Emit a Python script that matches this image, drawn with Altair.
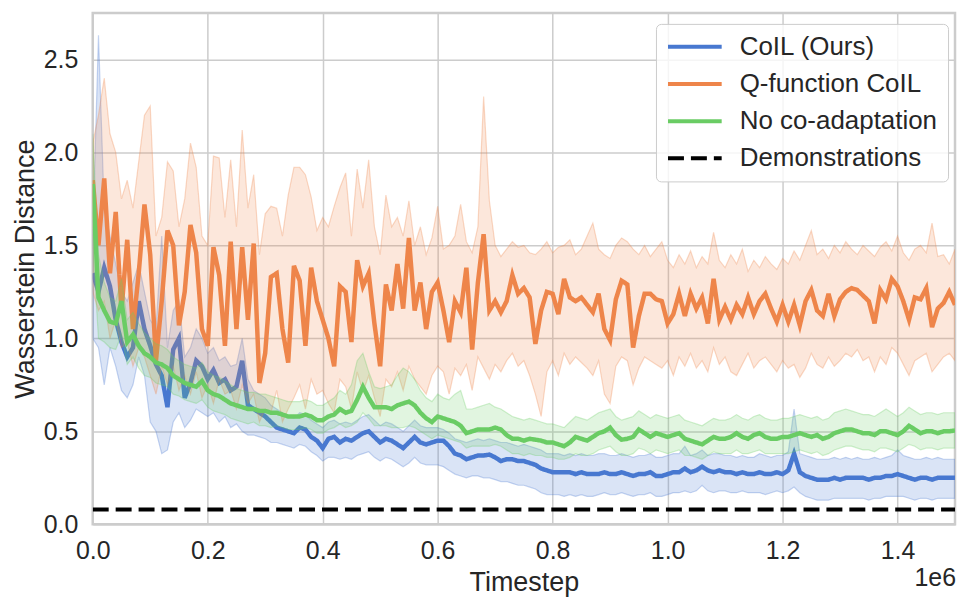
import altair as alt
import pandas as pd

FONT = "Liberation Sans"
TEXT_COLOR = "#262626"
GRID = "#cccccc"

# timesteps (every 10k steps, 0 .. 1.5e6)
STEPS = [i * 10000 for i in range(151)]

SERIES = ["CoIL (Ours)", "Q-function CoIL", "No co-adaptation", "Demonstrations"]
COLORS = ["#4878d0", "#ee854a", "#6acc64", "#000000"]
DASHES = [[1, 0], [1, 0], [1, 0], [16, 7]]
DEMO_LEVEL = 0.08
X_TICKS = [0, 200000, 400000, 600000, 800000, 1000000, 1200000, 1400000]
Y_TICKS = [0.0, 0.5, 1.0, 1.5, 2.0, 2.5]

# ---- CoIL (Ours) ----
coil_mean = [
    1.35, 1.25, 1.38, 1.28, 1.10, 0.98, 0.90, 0.95, 1.20, 1.05,
    0.96, 0.86, 0.80, 0.63, 0.94, 1.00, 0.68, 0.76, 0.88, 0.85,
    0.78, 0.83, 0.76, 0.78, 0.72, 0.74, 0.88, 0.64, 0.62, 0.60,
    0.58, 0.55, 0.52, 0.51, 0.50, 0.49, 0.52, 0.51, 0.47, 0.45,
    0.41, 0.46, 0.47, 0.44, 0.46, 0.45, 0.47, 0.49, 0.50, 0.47,
    0.44, 0.46, 0.45, 0.43, 0.41, 0.44, 0.47, 0.44, 0.43, 0.44,
    0.45, 0.45, 0.42, 0.38, 0.37, 0.35, 0.36, 0.37, 0.37, 0.375,
    0.36, 0.34, 0.35, 0.35, 0.34, 0.34, 0.33, 0.32, 0.30, 0.29,
    0.28, 0.28, 0.28, 0.28, 0.27, 0.28, 0.27, 0.27, 0.27, 0.28,
    0.27, 0.27, 0.28, 0.27, 0.26, 0.27, 0.27, 0.28, 0.26, 0.26,
    0.27, 0.28, 0.28, 0.30, 0.28, 0.29, 0.31, 0.29, 0.28, 0.29,
    0.28, 0.28, 0.27, 0.28, 0.27, 0.27, 0.28, 0.27, 0.27, 0.28,
    0.27, 0.29, 0.38, 0.28, 0.26, 0.25, 0.24, 0.24, 0.24, 0.25,
    0.24, 0.25, 0.25, 0.25, 0.25, 0.24, 0.25, 0.25, 0.26, 0.26,
    0.27, 0.26, 0.25, 0.24, 0.25, 0.25, 0.24, 0.25, 0.25, 0.25,
    0.25,
]
coil_hi = [
    1.55, 2.63, 1.70, 1.55, 1.40, 1.25, 1.20, 1.30, 1.40, 1.25,
    1.10, 1.05, 1.55, 0.95, 1.15, 1.20, 0.90, 0.95, 1.05, 1.00,
    0.92, 0.95, 0.88, 0.90, 0.85, 0.86, 1.00, 0.78, 0.72, 0.70,
    0.68, 0.64, 0.62, 0.60, 0.58, 0.57, 0.60, 0.59, 0.56, 0.54,
    0.52, 0.55, 0.56, 0.54, 0.55, 0.54, 0.56, 0.58, 0.59, 0.56,
    0.53, 0.55, 0.54, 0.52, 0.50, 0.53, 0.56, 0.53, 0.52, 0.52,
    0.52, 0.51, 0.49, 0.46, 0.45, 0.44, 0.45, 0.46, 0.45, 0.46,
    0.45, 0.44, 0.44, 0.43, 0.42, 0.43, 0.42, 0.41, 0.40, 0.38,
    0.38, 0.38, 0.37, 0.38, 0.37, 0.38, 0.37, 0.37, 0.38, 0.38,
    0.37, 0.37, 0.38, 0.37, 0.36, 0.37, 0.37, 0.38, 0.36, 0.36,
    0.37, 0.38, 0.38, 0.42, 0.37, 0.38, 0.40, 0.37, 0.38, 0.38,
    0.37, 0.37, 0.36, 0.37, 0.36, 0.36, 0.38, 0.37, 0.36, 0.37,
    0.37, 0.39, 0.62, 0.38, 0.37, 0.36, 0.35, 0.35, 0.35, 0.36,
    0.35, 0.36, 0.35, 0.36, 0.35, 0.35, 0.36, 0.35, 0.36, 0.37,
    0.40, 0.37, 0.36, 0.35, 0.35, 0.36, 0.35, 0.36, 0.35, 0.35,
    0.35,
]
coil_lo = [
    1.00, 0.95, 0.75, 0.95, 0.85, 0.72, 0.68, 0.75, 0.90, 0.80,
    0.55, 0.50, 0.38, 0.40, 0.55, 0.60, 0.52, 0.56, 0.62, 0.60,
    0.58, 0.60, 0.55, 0.58, 0.52, 0.54, 0.50, 0.48, 0.48, 0.47,
    0.46, 0.44, 0.44, 0.43, 0.42, 0.41, 0.43, 0.42, 0.39, 0.37,
    0.34, 0.36, 0.36, 0.35, 0.36, 0.35, 0.37, 0.38, 0.39, 0.36,
    0.34, 0.36, 0.35, 0.33, 0.31, 0.33, 0.36, 0.33, 0.32, 0.32,
    0.32, 0.31, 0.29, 0.27, 0.26, 0.25, 0.26, 0.26, 0.25, 0.25,
    0.24, 0.23, 0.23, 0.22, 0.21, 0.21, 0.20, 0.19, 0.17, 0.16,
    0.16, 0.16, 0.15, 0.16, 0.15, 0.16, 0.15, 0.15, 0.16, 0.17,
    0.16, 0.16, 0.17, 0.16, 0.15, 0.16, 0.16, 0.17, 0.15, 0.15,
    0.16, 0.17, 0.17, 0.18, 0.17, 0.18, 0.21, 0.18, 0.17, 0.18,
    0.18, 0.17, 0.17, 0.18, 0.17, 0.17, 0.17, 0.16, 0.17, 0.18,
    0.17, 0.18, 0.20, 0.17, 0.15, 0.14, 0.13, 0.13, 0.13, 0.14,
    0.14, 0.14, 0.14, 0.14, 0.14, 0.13, 0.14, 0.14, 0.15, 0.15,
    0.15, 0.15, 0.14, 0.13, 0.14, 0.14, 0.13, 0.14, 0.14, 0.14,
    0.14,
]

# ---- Q-function CoIL ----
qfn_mean = [
    1.85, 1.50, 1.86, 1.35, 1.68, 1.15, 1.53, 1.05, 1.35, 1.72,
    1.45, 0.88, 1.20, 1.58, 1.50, 1.07, 1.25, 1.61, 1.46, 1.05,
    0.96, 1.49, 1.34, 0.96, 1.52, 1.05, 1.49, 1.10, 1.51, 0.76,
    0.92, 1.33, 1.35, 1.05, 0.87, 1.39, 1.31, 0.96, 1.38, 1.20,
    1.10, 1.00, 0.85, 1.28, 1.25, 0.98, 1.42, 1.28, 1.35, 1.08,
    0.85, 1.29, 1.15, 1.40, 1.16, 1.54, 1.15, 1.30, 1.05, 1.25,
    1.30, 1.15, 0.98, 1.20, 1.14, 1.38, 0.94, 1.30, 1.56, 1.15,
    1.20, 1.14, 1.20, 1.34, 1.24, 1.27, 1.22, 0.97, 1.15, 1.25,
    1.24, 1.13, 1.32, 1.22, 1.20, 1.22, 1.18, 1.14, 1.24, 1.05,
    0.99, 1.21, 1.31, 1.29, 0.95, 1.12, 1.24, 1.24, 1.21, 1.20,
    1.08, 1.13, 1.24, 1.12, 1.24, 1.16, 1.22, 1.08, 1.32, 1.10,
    1.17, 1.10, 1.18, 1.13, 1.22, 1.13, 1.20, 1.24, 1.16, 1.09,
    1.18, 1.09, 1.18, 1.07, 1.20, 1.26, 1.15, 1.12, 1.24, 1.12,
    1.21, 1.25, 1.27, 1.26, 1.23, 1.20, 1.08, 1.26, 1.21, 1.32,
    1.28, 1.20, 1.10, 1.22, 1.21, 1.27, 1.06, 1.16, 1.19, 1.25,
    1.18,
]
qfn_hi = [
    2.05, 2.20, 2.40, 2.10, 2.00, 1.75, 1.85, 1.70, 1.95, 2.20,
    2.25, 1.55, 1.65, 1.95, 1.90, 1.60, 1.75, 2.05, 1.92, 1.55,
    1.50, 1.98, 1.97, 1.65, 1.96, 1.60, 2.12, 1.70, 1.88, 1.45,
    1.67, 1.71, 1.70, 1.55, 1.77, 1.92, 1.92, 1.88, 1.76, 1.58,
    1.65, 1.60, 1.71, 1.81, 1.89, 1.55, 1.91, 1.70, 1.96, 1.60,
    1.45, 1.77, 1.60, 1.65, 1.55, 1.74, 1.50, 1.60, 1.45, 1.54,
    1.71, 1.48, 1.50, 1.55, 1.72, 1.52, 1.46, 1.60, 2.30, 1.74,
    1.50, 1.44, 1.48, 1.52, 1.49, 1.50, 1.46, 1.45, 1.48, 1.52,
    1.46, 1.49, 1.50, 1.53, 1.45, 1.48, 1.55, 1.62, 1.48, 1.45,
    1.43, 1.50, 1.54, 1.52, 1.48, 1.45, 1.50, 1.44, 1.48, 1.52,
    1.42, 1.38, 1.45, 1.40, 1.47, 1.38, 1.44, 1.40, 1.57, 1.42,
    1.38, 1.45, 1.40, 1.48, 1.36, 1.42, 1.38, 1.44, 1.40, 1.37,
    1.43, 1.40, 1.47, 1.42, 1.50, 1.58, 1.45, 1.48, 1.43, 1.50,
    1.46, 1.52, 1.48, 1.45, 1.50, 1.47, 1.44, 1.49, 1.52, 1.47,
    1.55, 1.46, 1.42, 1.48, 1.50, 1.46, 1.62, 1.44, 1.45, 1.40,
    1.48,
]
qfn_lo = [
    1.25, 1.15, 1.20, 1.00, 1.10, 0.95, 0.98, 0.85, 0.95, 0.90,
    0.80, 0.70, 0.85, 0.75, 0.85, 0.72, 0.80, 0.70, 0.82, 0.68,
    0.75, 0.65, 0.78, 0.70, 0.72, 0.62, 0.75, 0.65, 0.70, 0.55,
    0.62, 0.60, 0.72, 0.55, 0.62, 0.68, 0.75, 0.62, 0.78, 0.70,
    0.72, 0.65, 0.60, 0.78, 0.74, 0.62, 0.82, 0.71, 0.80, 0.68,
    0.58, 0.78, 0.74, 0.82, 0.72, 0.85, 0.78, 0.74, 0.70, 0.80,
    0.85, 0.82, 0.70, 0.84, 0.80, 0.86, 0.72, 0.90, 0.84, 0.78,
    0.86, 0.82, 0.88, 0.92, 0.85, 0.88, 0.80, 0.70, 0.58, 0.82,
    0.88, 0.80, 0.92, 0.86, 0.90, 0.87, 0.84, 0.80, 0.88, 0.70,
    0.65, 0.85, 0.90, 0.88, 0.75, 0.84, 0.90, 0.88, 0.86, 0.84,
    0.88, 0.80, 0.90, 0.85, 0.92, 0.84, 0.88, 0.82, 0.95, 0.86,
    0.90, 0.82, 0.80, 0.86, 0.92, 0.84, 0.88, 0.90, 0.86, 0.82,
    0.88, 0.84, 0.86, 0.79, 0.84, 0.92, 0.86, 0.84, 0.90, 0.85,
    0.88, 0.92, 0.90, 0.94, 0.88, 0.90, 0.82, 0.90, 0.86, 0.95,
    0.92, 0.86, 0.80, 0.88, 0.90, 0.92, 0.82, 0.86, 0.90, 0.92,
    0.88,
]

# ---- No co-adaptation ----
noco_mean = [
    1.83, 1.22, 1.15, 1.09, 1.08, 1.20, 0.98, 1.02, 0.96, 0.92,
    0.90, 0.87, 0.86, 0.84, 0.80, 0.78, 0.76, 0.75, 0.74, 0.77,
    0.72, 0.70, 0.69, 0.67, 0.65, 0.64, 0.63, 0.62, 0.62, 0.61,
    0.61, 0.60, 0.60, 0.59, 0.58, 0.58, 0.58, 0.59, 0.58, 0.56,
    0.56, 0.58, 0.59, 0.62, 0.60, 0.61, 0.67, 0.74, 0.68, 0.63,
    0.63, 0.63, 0.62, 0.64, 0.65, 0.66, 0.64, 0.60, 0.57, 0.55,
    0.58, 0.57, 0.56, 0.55, 0.53, 0.49, 0.50, 0.51, 0.51, 0.51,
    0.52, 0.51, 0.48, 0.46, 0.46, 0.45, 0.46, 0.455, 0.45, 0.44,
    0.44, 0.43, 0.42, 0.44, 0.47, 0.46, 0.45, 0.47, 0.49, 0.50,
    0.52, 0.48, 0.455, 0.46, 0.47, 0.51, 0.49, 0.47, 0.49, 0.48,
    0.47, 0.48, 0.49, 0.46, 0.45, 0.44, 0.43, 0.45, 0.47, 0.46,
    0.46, 0.47, 0.49, 0.47, 0.46, 0.48, 0.49, 0.47, 0.46, 0.46,
    0.47, 0.47, 0.48, 0.49, 0.48, 0.47, 0.48, 0.46, 0.47, 0.49,
    0.50, 0.51, 0.51, 0.50, 0.49, 0.49, 0.48, 0.50, 0.50, 0.49,
    0.48, 0.50, 0.53, 0.51, 0.49, 0.50, 0.50, 0.49, 0.50, 0.50,
    0.505,
]
noco_hi = [
    2.10, 1.45, 1.30, 1.22, 1.20, 1.32, 1.10, 1.14, 1.08, 1.03,
    1.00, 0.97, 0.96, 0.94, 0.90, 0.88, 0.86, 0.85, 0.84, 0.87,
    0.82, 0.80, 0.79, 0.77, 0.75, 0.73, 0.72, 0.71, 0.71, 0.70,
    0.70, 0.69, 0.68, 0.67, 0.66, 0.66, 0.66, 0.67, 0.66, 0.64,
    0.64, 0.66, 0.68, 0.72, 0.70, 0.75, 0.88, 0.92, 0.82, 0.74,
    0.73, 0.74, 0.75, 0.80, 0.84, 0.82, 0.78, 0.72, 0.68, 0.66,
    0.70, 0.68, 0.67, 0.70, 0.72, 0.62, 0.62, 0.63, 0.64, 0.65,
    0.63, 0.62, 0.60, 0.58, 0.57, 0.56, 0.57, 0.56, 0.55, 0.54,
    0.54, 0.53, 0.52, 0.55, 0.58, 0.57, 0.56, 0.58, 0.60, 0.61,
    0.62, 0.58, 0.56, 0.57, 0.58, 0.61, 0.59, 0.57, 0.59, 0.58,
    0.57, 0.58, 0.59, 0.56, 0.55, 0.54, 0.53, 0.55, 0.57, 0.56,
    0.56, 0.57, 0.59, 0.57, 0.56, 0.58, 0.59, 0.57, 0.56, 0.56,
    0.57, 0.57, 0.58, 0.59, 0.58, 0.57, 0.58, 0.56, 0.57, 0.60,
    0.61, 0.62, 0.61, 0.60, 0.59, 0.59, 0.58, 0.60, 0.62, 0.60,
    0.58, 0.60, 0.63, 0.61, 0.59, 0.60, 0.60, 0.59, 0.60, 0.60,
    0.60,
]
noco_lo = [
    1.50, 1.00, 0.98, 0.95, 0.94, 1.02, 0.86, 0.90, 0.84, 0.80,
    0.79, 0.76, 0.75, 0.74, 0.70, 0.69, 0.67, 0.66, 0.65, 0.67,
    0.63, 0.61, 0.60, 0.59, 0.57, 0.56, 0.55, 0.54, 0.55, 0.53,
    0.53, 0.52, 0.53, 0.52, 0.51, 0.51, 0.51, 0.52, 0.51, 0.49,
    0.49, 0.51, 0.52, 0.54, 0.52, 0.53, 0.55, 0.60, 0.57, 0.53,
    0.53, 0.53, 0.52, 0.52, 0.52, 0.53, 0.52, 0.50, 0.48, 0.46,
    0.48, 0.47, 0.46, 0.45, 0.44, 0.41, 0.42, 0.42, 0.42, 0.42,
    0.43, 0.42, 0.40, 0.38, 0.38, 0.37, 0.38, 0.37, 0.37, 0.36,
    0.36, 0.35, 0.35, 0.36, 0.38, 0.37, 0.37, 0.38, 0.40, 0.41,
    0.42, 0.39, 0.37, 0.37, 0.38, 0.41, 0.40, 0.38, 0.40, 0.39,
    0.38, 0.39, 0.40, 0.37, 0.37, 0.36, 0.35, 0.37, 0.39, 0.38,
    0.38, 0.38, 0.40, 0.38, 0.38, 0.39, 0.40, 0.38, 0.38, 0.38,
    0.38, 0.38, 0.39, 0.40, 0.39, 0.38, 0.39, 0.37, 0.38, 0.40,
    0.41, 0.42, 0.42, 0.41, 0.40, 0.40, 0.39, 0.41, 0.41, 0.40,
    0.39, 0.41, 0.43, 0.42, 0.40, 0.41, 0.41, 0.40, 0.41, 0.41,
    0.41,
]


def frame(name, mean, lo, hi):
    return pd.DataFrame({"step": STEPS, "mean": mean, "lo": lo, "hi": hi, "series": name})


frames = [
    frame(SERIES[0], coil_mean, coil_lo, coil_hi),
    frame(SERIES[1], qfn_mean, qfn_lo, qfn_hi),
    frame(SERIES[2], noco_mean, noco_lo, noco_hi),
]
demo_df = pd.DataFrame({"step": [STEPS[0], STEPS[-1]], "mean": [DEMO_LEVEL, DEMO_LEVEL],
                        "series": SERIES[3]})

x_scale = alt.Scale(domain=[0, 1500000], nice=False, zero=False)
y_scale = alt.Scale(domain=[0, 2.75], nice=False, zero=False)
x_axis = alt.Axis(values=X_TICKS, labelExpr="format(datum.value / 1000000, '.1f')",
                  title="Timestep", labelPadding=14, titlePadding=6, labelFlush=False)
y_axis = alt.Axis(values=Y_TICKS, format=".1f", title="Wasserstein Distance",
                  labelPadding=15, titlePadding=4, labelFlush=False)
color_scale = alt.Scale(domain=SERIES, range=COLORS)
dash_scale = alt.Scale(domain=SERIES, range=DASHES)
legend = alt.Legend(title=None)

X = alt.X("step:Q", scale=x_scale, axis=x_axis)
color_enc = alt.Color("series:N", scale=color_scale, legend=legend)
dash_enc = alt.StrokeDash("series:N", scale=dash_scale, legend=legend)

layers = []
for df, col in zip(frames, COLORS[:3]):
    band = alt.Chart(df).mark_area(
        color=col, fillOpacity=0.2, stroke=col, strokeOpacity=0.3, strokeWidth=1.2, clip=True
    ).encode(x=X, y=alt.Y("lo:Q", scale=y_scale, axis=y_axis), y2="hi:Q")
    line = alt.Chart(df).mark_line(strokeWidth=4.5, clip=True).encode(
        x=X, y=alt.Y("mean:Q", scale=y_scale, axis=y_axis), color=color_enc, strokeDash=dash_enc
    )
    layers += [band, line]

demo = alt.Chart(demo_df).mark_line(strokeWidth=4, clip=True).encode(
    x=X, y=alt.Y("mean:Q", scale=y_scale, axis=y_axis), color=color_enc, strokeDash=dash_enc
)
layers.append(demo)

offset_text = alt.Chart(pd.DataFrame({"t": ["1e6"]})).mark_text(
    align="right", baseline="middle", fontSize=25, font=FONT, color=TEXT_COLOR
).encode(x=alt.value(866), y=alt.value(567), text="t:N")
layers.append(offset_text)

chart = alt.layer(*layers).properties(
    width=865, height=513,
    padding={"left": 85, "top": 4, "right": 6, "bottom": 80},
    autosize=alt.AutoSizeParams(type="none"),
    background="white",
).configure_view(
    stroke=GRID, strokeWidth=2.5
).configure_axis(
    grid=True, gridColor=GRID, gridWidth=1.5, domain=False, ticks=False,
    labelFont=FONT, labelFontSize=25, labelColor=TEXT_COLOR,
    titleFont=FONT, titleFontSize=27, titleColor=TEXT_COLOR, titleFontWeight="normal",
).configure_legend(
    orient="none", legendX=565, legendY=11,
    fillColor="rgba(255,255,255,0.8)", strokeColor=GRID, cornerRadius=5, padding=10,
    labelFont=FONT, labelFontSize=26, labelColor=TEXT_COLOR, labelOffset=16, labelLimit=0,
    symbolType="stroke", symbolSize=2900, symbolStrokeWidth=4,
    clipHeight=26, rowPadding=11.3,
)

chart.save("out.html", embed_options={"renderer": "svg", "actions": False})
